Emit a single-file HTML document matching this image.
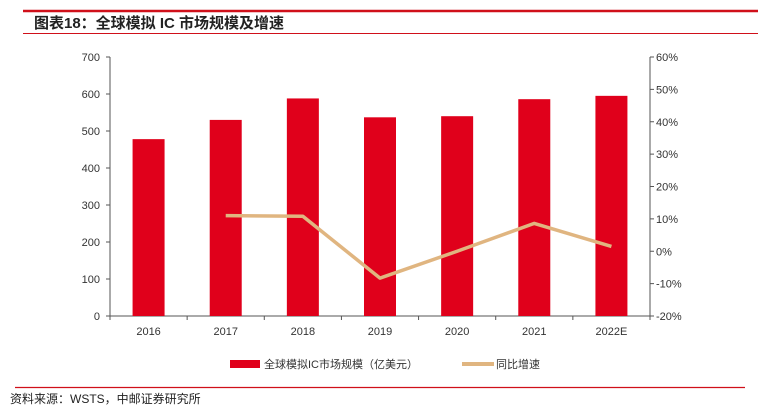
<!DOCTYPE html>
<html><head><meta charset="utf-8"><style>
body{margin:0;background:#fff;width:758px;height:409px;overflow:hidden;font-family:"Liberation Sans","Noto Sans CJK SC",sans-serif}
svg text{font-family:"Liberation Sans","Noto Sans CJK SC",sans-serif}
</style></head><body>
<svg width="758" height="409">
<line x1="23" y1="11" x2="758" y2="11" stroke="#d0101a" stroke-width="2.5"/>
<text x="34" y="28" font-size="15" font-weight="bold" fill="#222">图表18：全球模拟 IC 市场规模及增速</text>
<line x1="23" y1="33.5" x2="758" y2="33.5" stroke="#d0101a" stroke-width="1"/>
<g id="plot"></g>
<g>
<rect x="230" y="360" width="30" height="8" fill="#e0001b"/>
<text x="264" y="368" font-size="11" fill="#333">全球模拟IC市场规模（亿美元）</text>
<line x1="462" y1="364" x2="494" y2="364" stroke="#e0b580" stroke-width="4"/>
<text x="496" y="368" font-size="11" fill="#333">同比增速</text>
</g>
<line x1="15" y1="387.5" x2="745" y2="387.5" stroke="#d0101a" stroke-width="1.2"/>
<text x="10" y="403" font-size="12" fill="#222">资料来源：WSTS，中邮证券研究所</text>
</svg>
<script>
const categories=["2016","2017","2018","2019","2020","2021","2022E"];
const marketSize=[478,530,588,537,540,586,595];
const growthPct=[null,11,10.8,-8.3,0,8.6,1.5];
const leftTicks=[0,100,200,300,400,500,600,700];
const rightTicks=[-20,-10,0,10,20,30,40,50,60];
const NS="http://www.w3.org/2000/svg";
const g=document.getElementById('plot');
const L=110,R=650,T=57,B=316;
const step=(R-L)/categories.length;
const xc=i=>L+step*(i+0.5);
const yL=v=>B-(v/700)*(B-T);
const yR=v=>B-((v+20)/80)*(B-T);
function mk(t,a){const e=document.createElementNS(NS,t);for(const k in a)e.setAttribute(k,a[k]);g.appendChild(e);return e;}
let e;
e=mk('line',{x1:L,y1:T,x2:L,y2:B,stroke:'#555'});


e=mk('line',{x1:R,y1:T,x2:R,y2:B,stroke:'#555'});


e=mk('line',{x1:L,y1:B,x2:R,y2:B,stroke:'#555'});


leftTicks.forEach(v=>{const y=yL(v);
mk('line',{x1:L-4,y1:y,x2:L,y2:y,stroke:'#555'});
e=mk('text',{x:L-10,y:y+4,'font-size':11,'text-anchor':'end',fill:'#333'});e.textContent=v;

});
rightTicks.forEach(v=>{const y=yR(v);
mk('line',{x1:R,y1:y,x2:R+4,y2:y,stroke:'#555'});
e=mk('text',{x:R+6,y:y+4,'font-size':11,fill:'#333'});e.textContent=v+'%';

});
categories.forEach((c,i)=>{
mk('line',{x1:L+step*i,y1:B,x2:L+step*i,y2:B+4,stroke:'#555'});
e=mk('rect',{x:xc(i)-16,y:yL(marketSize[i]),width:32,height:B-yL(marketSize[i]),fill:'#e0001b'});


e=mk('text',{x:xc(i),y:B+19,'font-size':11,'text-anchor':'middle',fill:'#333'});e.textContent=c;

});
mk('line',{x1:R,y1:B,x2:R,y2:B+4,stroke:'#555'});
const pts=growthPct.map((v,i)=>v===null?null:xc(i)+','+yR(v)).filter(p=>p);
e=mk('polyline',{points:pts.join(' '),fill:'none',stroke:'#e0b580','stroke-width':3.5,'stroke-linejoin':'round'});


</script>
</body></html>
